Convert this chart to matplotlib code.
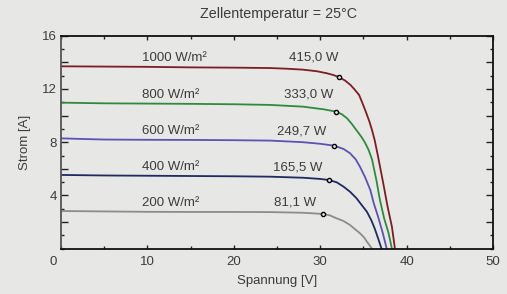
import matplotlib
matplotlib.use("Agg")
import matplotlib.pyplot as plt
from matplotlib.ticker import MultipleLocator

# I-V curves of a PV module at 25 °C for different irradiances
v_1000 = [0, 5, 10, 15, 20, 24.2, 26.1, 28, 29.6, 30.75, 31.5, 32.2, 32.9, 33.5, 33.95, 34.5,
          34.9, 35.3, 35.7, 36.0, 36.3, 36.7, 37.3, 37.8, 38.3, 38.65]
i_1000 = [13.7, 13.68, 13.66, 13.62, 13.6, 13.57, 13.52, 13.45, 13.33, 13.18, 13.05, 12.88, 12.62, 12.3, 11.98, 11.55,
          10.92, 10.25, 9.54, 8.9, 8.17, 6.91, 4.9, 3.16, 1.65, 0]

v_800 = [0, 5, 10, 15, 20, 24.2, 28, 30.4, 31.8, 32.5, 33.1, 33.6, 34.2, 34.8, 35.2, 35.6,
         36.0, 36.5, 36.9, 37.4, 37.9, 38.3]
i_800 = [10.97, 10.92, 10.9, 10.88, 10.85, 10.8, 10.67, 10.47, 10.3, 10.1, 9.8, 9.42, 8.9, 8.37, 7.95, 7.42,
         6.7, 5.16, 3.7, 2.28, 1.2, 0]

v_600 = [0, 2, 5, 10, 15, 20, 24.2, 28, 30, 31.6, 32.7, 33.45, 34.1, 34.6, 35.2, 35.8,
         36.2, 36.7, 37.2, 37.7]
i_600 = [8.29, 8.25, 8.2, 8.18, 8.17, 8.15, 8.12, 8.0, 7.88, 7.74, 7.49, 7.17, 6.72, 6.16, 5.36, 4.41,
         3.41, 2.4, 1.28, 0]

v_400 = [0, 5, 10, 15, 20, 24.2, 28, 30, 31.0, 31.9, 32.7, 33.45, 34.2, 34.8, 35.4, 35.9,
         36.3, 36.7, 37.1]
i_400 = [5.54, 5.5, 5.48, 5.46, 5.44, 5.41, 5.33, 5.24, 5.16, 4.99, 4.66, 4.28, 3.79, 3.28, 2.78, 2.16,
         1.53, 0.78, 0]

v_200 = [0, 5, 10, 15, 20, 24.2, 28, 30.3, 31.1, 31.9, 32.7, 33.45, 34.0, 34.6, 35.1, 35.4, 36.0]
i_200 = [2.83, 2.8, 2.77, 2.76, 2.76, 2.75, 2.7, 2.61, 2.51, 2.28, 2.08, 1.78, 1.48, 1.16, 0.83, 0.53, 0]

# maximum power points
mpp_v = [32.2, 31.8, 31.6, 31.0, 30.3]
mpp_i = [12.88, 10.3, 7.74, 5.16, 2.61]

irr_labels = ["1000 W/m²", "800 W/m²", "600 W/m²", "400 W/m²", "200 W/m²"]
pow_labels = ["415,0 W", "333,0 W", "249,7 W", "165,5 W", "81,1 W"]
label_y = [14.33, 11.55, 8.84, 6.12, 3.45]
pow_x = [29.2, 28.7, 27.9, 27.4, 27.1]
colors = ["#7d1c22", "#2f8a3f", "#5b52b2", "#1f2a60", "#8c8c8c"]

bg = "#e7e7e5"
txt = "#3c3c3c"
plt.rcParams["font.family"] = ["Liberation Sans", "DejaVu Sans"]
plt.rcParams["font.size"] = 9.5

fig = plt.figure(figsize=(5.07, 2.94), dpi=100, facecolor=bg)
ax = fig.add_axes([0.1203, 0.1541, 0.8521, 0.7245])
ax.set_facecolor(bg)

curves = [(v_1000, i_1000), (v_800, i_800), (v_600, i_600), (v_400, i_400), (v_200, i_200)]
for k, (v, i) in enumerate(curves):
    ax.plot(v, i, color=colors[k], lw=1.3, solid_joinstyle="round")
    ax.plot(mpp_v[k], mpp_i[k], 'o', ms=3, mfc=bg, mec="black", mew=1.0, zorder=5)
    ax.text(9.35, label_y[k], irr_labels[k], ha="left", va="center", color=txt)
    ax.text(pow_x[k], label_y[k], pow_labels[k], ha="center", va="center", color=txt)

ax.set_xlim(0, 50)
ax.set_ylim(0, 16)
ax.xaxis.set_minor_locator(MultipleLocator(5))
ax.yaxis.set_minor_locator(MultipleLocator(1))
ax.set_xticks([10, 20, 30, 40, 50])
ax.set_yticks([2, 4, 6, 8, 10, 12, 14, 16], ["", "4", "", "8", "", "12", "", "16"])
ax.tick_params(which="both", direction="in", top=True, right=True, colors="#222222",
               labelcolor=txt, labelsize=9.5, width=1.0)
ax.tick_params(axis="y", which="major", length=5, pad=3)
ax.tick_params(axis="y", which="minor", length=2.5)
ax.tick_params(axis="x", which="major", length=3, pad=5)
ax.tick_params(axis="x", which="minor", length=2)
ax.annotate("0", xy=(0, 0), xytext=(-5.5, -5), textcoords="offset points",
            ha="center", va="top", color=txt, annotation_clip=False)

for side in ["top", "right", "bottom"]:
    ax.spines[side].set_color("#111111")
    ax.spines[side].set_linewidth(1.3)
ax.spines["left"].set_color("#555555")
ax.spines["left"].set_linewidth(1.3)

ax.set_xlabel("Spannung [V]", color=txt, labelpad=5)
ax.set_ylabel("Strom [A]", color=txt, labelpad=8)
fig.text(0.549, 0.953, "Zellentemperatur = 25°C", ha="center", va="center", color=txt, fontsize=10.3)

fig.savefig("out.png", dpi=100, facecolor=bg)
